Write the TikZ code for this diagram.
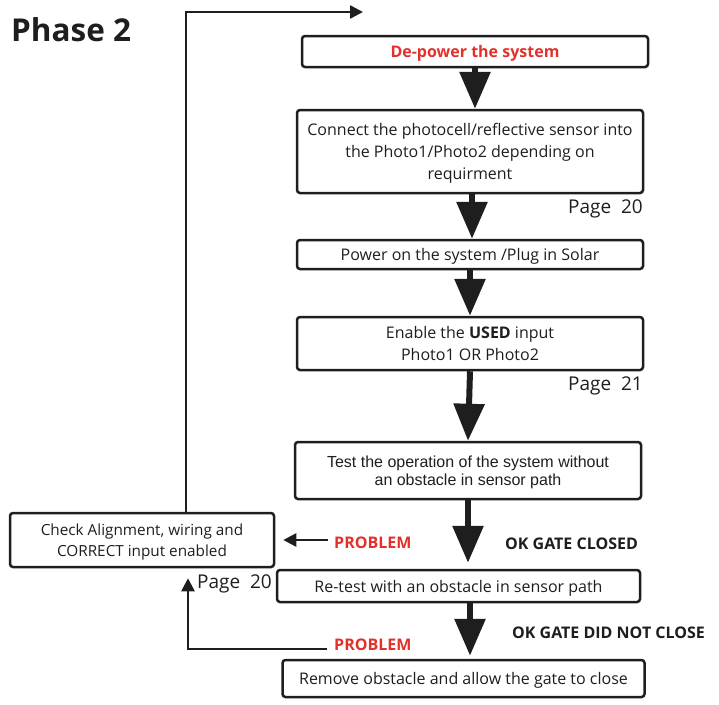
\documentclass[tikz,border=0pt]{standalone}
\usepackage{fontspec}
\setmainfont{Open Sans}
\newfontfamily\arialfont{Liberation Sans}
\usetikzlibrary{arrows.meta}
\definecolor{probred}{RGB}{226,49,42}
\definecolor{inkgray}{RGB}{30,30,30}

\tikzset{
  stepbox/.style={draw=inkgray, line width=2.5pt, rounded corners=3pt, align=center,
    inner sep=0pt, text depth=0pt, text=inkgray, font=\fontsize{16}{22}\selectfont},
  bigarrow/.style={draw=inkgray, line width=6pt, -{Triangle[width=30pt,length=37pt]}},
  thinarrow/.style={draw=inkgray, line width=2.5pt, -{Triangle[width=13pt,length=13pt]}},
  redlabel/.style={text=probred, inner sep=0pt, font=\fontsize{16}{18}\selectfont\bfseries},
  oklabel/.style={text=inkgray, inner sep=0pt, font=\fontsize{16}{18}\selectfont\bfseries},
  pagelabel/.style={text=inkgray, inner sep=0pt, font=\fontsize{19}{20}\selectfont},
}

\begin{document}
\begin{tikzpicture}[x=1pt,y=-1pt]
	\useasboundingbox (0,0) rectangle (719,704);

	% title
	\node[anchor=west, inner sep=0pt, text=inkgray, font=\fontsize{31.5}{32}\selectfont\bfseries] (title) at (11,30) {Phase 2};

	% main column
	\node[stepbox, minimum width=346pt, minimum height=31pt, text=probred, font=\fontsize{16}{18}\selectfont\bfseries] (depower) at (475,51.5) {De-power the system};
	\node[stepbox, minimum width=346pt, minimum height=83pt] (connect) at (470,151.5) {Connect the photocell/reflective sensor into\\the Photo1/Photo2 depending on\\requirment};
	\node[stepbox, minimum width=346pt, minimum height=29pt] (poweron) at (470,254.5) {Power on the system /Plug in Solar};
	\node[stepbox, minimum width=346pt, minimum height=53pt] (enable) at (470,343.5) {Enable the \textbf{USED} input\\Photo1 OR Photo2};
	\node[stepbox, minimum width=346pt, minimum height=57pt, font=\arialfont\fontsize{16}{18}\selectfont] (test) at (468,470.5) {Test the operation of the system without\\an obstacle in sensor path};
	\node[stepbox, minimum width=363pt, minimum height=32pt] (retest) at (458.5,586) {Re-test with an obstacle in sensor path};
	\node[stepbox, minimum width=362pt, minimum height=37pt] (remove) at (463.5,678.5) {Remove obstacle and allow the gate to close};

	% side box
	\node[stepbox, minimum width=264pt, minimum height=54pt, font=\fontsize{15.3}{21}\selectfont] (check) at (142,540) {Check Alignment, wiring and\\CORRECT input enabled};

	% page references
	\node[pagelabel, anchor=east] (pg1) at (643,209) {Page\ \ 20};
	\node[pagelabel, anchor=east] (pg2) at (643,386) {Page\ \ 21};
	\node[pagelabel, anchor=east] (pg3) at (272,584) {Page\ \ 20};

	% outcome labels
	\node[redlabel, anchor=west] (prob1) at (334,543) {PROBLEM};
	\node[redlabel, anchor=west] (prob2) at (334,645) {PROBLEM};
	\node[oklabel, anchor=west] (okclosed) at (505,544) {OK GATE CLOSED};
	\node[oklabel, anchor=west] (oknot) at (512,633) {OK GATE DID NOT CLOSE};

	\coordinate (loopend) at (363,12);
	\coordinate (loopx) at (186,0);
	\coordinate (backx) at (188,0);
	\coordinate (colx) at (470,0);

	% big arrows
	\draw[bigarrow] (depower.south) -- (depower.south |- connect.north);
	\draw[bigarrow] ([xshift=2pt]connect.south) -- ([xshift=2pt]connect.south |- poweron.north);
	\draw[bigarrow] (poweron.south) -- (enable.north);
	\draw[bigarrow] (enable.south) -- (test.north);
	\draw[bigarrow, shorten >=6pt] (test.south) -- (test.south |- retest.north);
	\draw[bigarrow, shorten >=3pt] (retest.south -| colx) -- (remove.north -| colx);

	% thin arrows
	\draw[thinarrow, shorten >=8pt] ([xshift=-6pt]prob1.west |- check.east) -- (check.east);
	\draw[thinarrow, shorten >=10pt] ([xshift=-7pt,yshift=-4pt]prob2.west) -| (check.south -| backx);
	\draw[thinarrow] (check.north -| loopx) |- (loopend);

\end{tikzpicture}
\end{document}
